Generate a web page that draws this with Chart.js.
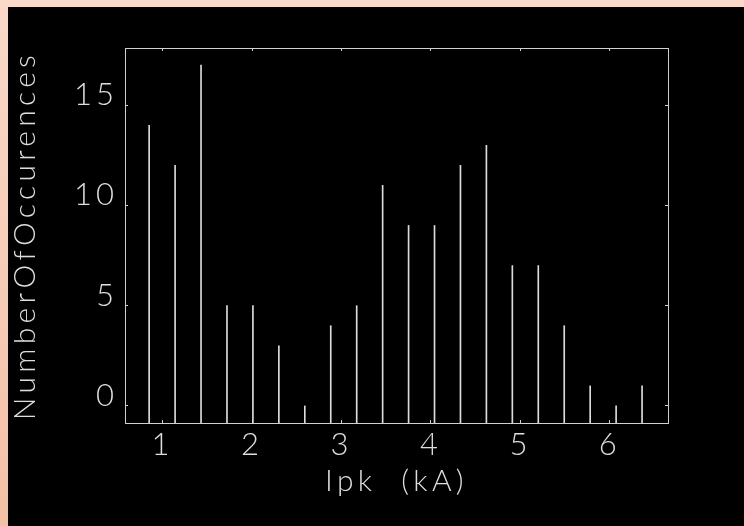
<!DOCTYPE html>
<html>
<head>
<meta charset="utf-8">
<script src="https://cdn.jsdelivr.net/npm/chart.js@4.4.1/dist/chart.umd.min.js"></script>
<style>
  html, body { margin: 0; padding: 0; width: 744px; height: 526px; overflow: hidden;
    background: linear-gradient(180deg, #f9d9ca 0%, #f4c0a5 100%); }
  #wrap { position: absolute; left: 8px; top: 7px; width: 736px; height: 519px; background: #000; }
  canvas { display: block; }
</style>
</head>
<body>
<div id="wrap"><canvas id="c" width="736" height="519"></canvas></div>
<script>
// Peak current bins (kA) and how many strokes fell in each
const currentKA = [0.85, 1.14, 1.43, 1.72, 2.01, 2.30, 2.59, 2.88, 3.17, 3.46,
                   3.75, 4.04, 4.33, 4.62, 4.91, 5.20, 5.49, 5.78, 6.07, 6.36];
const occurrences = [14, 12, 17, 5, 5, 3, 0, 4, 5, 11,
                     9, 9, 12, 13, 7, 7, 4, 1, 0, 1];

// Axis ticks and ranges
const xTickValues = [1, 2, 3, 4, 5, 6];
const yTickValues = [0, 5, 10, 15];
const xRange = [0.58, 6.65];
const yRange = [-0.85, 17.85];

const TEXT = '#dedede';
const LINE = '#d0d0d0';
const FAMILY = 'Lato, Roboto, "DejaVu Sans", sans-serif';
const TICK_SPACING = '4px';
const TITLE_SPACING = '4.3px';

const setTicks = values => scale => { scale.ticks = values.map(v => ({ value: v })); };

// inward tick marks on every side of the frame
const frameGrid = { display: true, drawOnChartArea: false, drawTicks: true, tickLength: -3,
                    color: LINE, lineWidth: 1, offset: false };
const frameBorder = { display: true, color: LINE, width: 1 };

// wide, airy lettering: titles and tick labels get their own spacing
const letterSpacing = {
  id: 'letterSpacing',
  beforeDraw(chart) {
    const ctx = chart.ctx;
    ctx.letterSpacing = TICK_SPACING;
    Object.values(chart.scales).forEach(scale => {
      if (scale._spacedTitle) return;
      const drawTitle = scale.drawTitle.bind(scale);
      scale.drawTitle = (...args) => {
        ctx.letterSpacing = TITLE_SPACING;
        drawTitle(...args);
        ctx.letterSpacing = TICK_SPACING;
      };
      scale._spacedTitle = true;
    });
  }
};

const tickFont = { family: FAMILY, size: 31, weight: 300, lineHeight: 1 };
const titleFont = { family: FAMILY, size: 30, weight: 300, lineHeight: 1 };

new Chart(document.getElementById('c'), {
  type: 'bar',
  data: {
    datasets: [{
      data: occurrences.map((v, i) => ({ x: currentKA[i], y: v })),
      base: yRange[0],
      barThickness: 1,
      backgroundColor: '#dcdcdc',
      borderWidth: 0
    }]
  },
  options: {
    responsive: false,
    animation: false,
    events: [],
    layout: { padding: { top: 41, right: 76, left: 0, bottom: 0 } },
    plugins: { legend: { display: false }, tooltip: { enabled: false } },
    scales: {
      x: {
        type: 'linear', position: 'bottom', min: xRange[0], max: xRange[1], offset: false,
        afterBuildTicks: setTicks(xTickValues),
        afterFit: s => { s.height = 103; },
        grid: frameGrid, border: frameBorder,
        ticks: { color: TEXT, padding: 9, maxRotation: 0, autoSkip: false, font: tickFont },
        title: { display: true, text: 'Ipk  (kA)', color: TEXT, font: titleFont,
                 padding: { top: 0, bottom: 30 } }
      },
      xTop: {
        type: 'linear', position: 'top', min: xRange[0], max: xRange[1], offset: false,
        afterBuildTicks: setTicks(xTickValues),
        afterFit: s => { s.height = 0; },
        grid: frameGrid, border: frameBorder,
        ticks: { display: false }
      },
      y: {
        type: 'linear', position: 'left', min: yRange[0], max: yRange[1],
        afterBuildTicks: setTicks(yTickValues),
        afterFit: s => { s.width = 117; },
        grid: frameGrid, border: frameBorder,
        ticks: { color: TEXT, padding: 10, labelOffset: -10, font: tickFont },
        title: { display: true, text: 'NumberOfOccurences', color: TEXT, font: titleFont,
                 padding: { top: 2, bottom: 0 } }
      },
      yRight: {
        type: 'linear', position: 'right', min: yRange[0], max: yRange[1],
        afterBuildTicks: setTicks(yTickValues),
        afterFit: s => { s.width = 0; },
        grid: frameGrid, border: frameBorder,
        ticks: { display: false }
      }
    }
  },
  plugins: [letterSpacing]
});
</script>
</body>
</html>
